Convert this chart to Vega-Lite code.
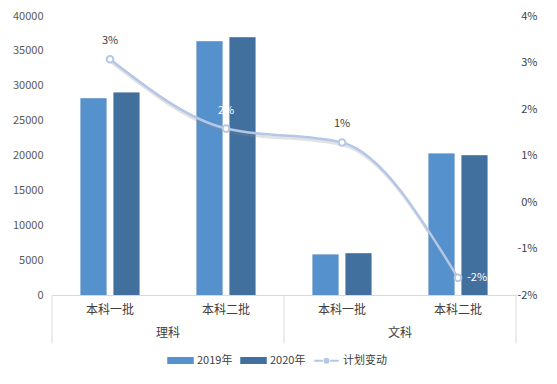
{
  "$schema": "https://vega.github.io/schema/vega-lite/v6.json",
  "autosize": "none",
  "width": 464,
  "height": 279,
  "padding": {"left": 52, "top": 16, "right": 41, "bottom": 89},
  "background": "white",
  "config": {
    "view": {"stroke": null},
    "font": "Noto Sans CJK SC",
    "axis": {"title": null, "grid": false, "ticks": false, "labelColor": "#404040", "labelOverlap": false, "labelSeparation": 0},
    "axisY": {"labelOverlap": false, "labelSeparation": 0},
    "axisLeft": {"labelOverlap": false, "labelSeparation": 0},
    "axisRight": {"labelColor": "#404040"},
    "axisQuantitative": {"labelOverlap": false}
  },
  "datasets": {
    "bars": [
      {"key": "理科-本科一批", "year": "2019年", "value": 28190},
      {"key": "理科-本科一批", "year": "2020年", "value": 29050},
      {"key": "理科-本科二批", "year": "2019年", "value": 36370},
      {"key": "理科-本科二批", "year": "2020年", "value": 36950},
      {"key": "文科-本科一批", "year": "2019年", "value": 5790},
      {"key": "文科-本科一批", "year": "2020年", "value": 5970},
      {"key": "文科-本科二批", "year": "2019年", "value": 20290},
      {"key": "文科-本科二批", "year": "2020年", "value": 20050}
    ],
    "line": [
      {"key": "理科-本科一批", "batch": "本科一批", "change": 0.0307},
      {"key": "理科-本科二批", "batch": "本科二批", "change": 0.0158},
      {"key": "文科-本科一批", "batch": "本科一批", "change": 0.0128},
      {"key": "文科-本科二批", "batch": "本科二批", "change": -0.0163}
    ],
    "groups": [
      {"key": "理科-本科一批", "group": "理科"},
      {"key": "文科-本科一批", "group": "文科"}
    ],
    "ends": [
      {"key": "文科-本科二批"}
    ]
  },
  "layer": [
    {
      "layer": [
        {
          "data": {"name": "bars"},
          "mark": {"type": "bar", "color": "#7F7F7F", "opacity": 0.4, "xOffset": 3},
          "encoding": {
            "x": {
              "field": "key", "type": "nominal",
              "scale": {"domain": ["理科-本科一批", "理科-本科二批", "文科-本科一批", "文科-本科二批"], "paddingInner": 0, "paddingOuter": 0},
              "axis": {"labelExpr": "split(datum.value,'-')[1]", "labelFontSize": 12, "labelPadding": 9, "labelAngle": 0, "domain": true, "domainColor": "#D9D9D9", "domainWidth": 1, "bandPosition": 0.5}
            },
            "xOffset": {"field": "year", "type": "nominal", "scale": {"paddingInner": 0.212, "paddingOuter": 0.864}},
            "y": {
              "field": "value", "type": "quantitative",
              "scale": {"domain": [0, 40000], "nice": false},
              "axis": {"tickCount": 8, "format": "d", "labelFontSize": 11, "labelPadding": 9, "labelColor": "#595959", "domain": false, "labelOverlap": false, "labelSeparation": 0}
            }
          }
        },
        {
          "data": {"name": "bars"},
          "mark": {"type": "bar"},
          "encoding": {
            "x": {
              "field": "key", "type": "nominal",
              "scale": {"domain": ["理科-本科一批", "理科-本科二批", "文科-本科一批", "文科-本科二批"], "paddingInner": 0, "paddingOuter": 0},
              "axis": {"labelExpr": "split(datum.value,'-')[1]", "labelFontSize": 12, "labelPadding": 9, "labelAngle": 0, "domain": true, "domainColor": "#D9D9D9", "domainWidth": 1, "bandPosition": 0.5}
            },
            "xOffset": {"field": "year", "type": "nominal", "scale": {"paddingInner": 0.212, "paddingOuter": 0.864}},
            "y": {
              "field": "value", "type": "quantitative",
              "scale": {"domain": [0, 40000], "nice": false},
              "axis": {"tickCount": 8, "format": "d", "labelFontSize": 11, "labelPadding": 9, "labelColor": "#595959", "domain": false, "labelOverlap": false, "labelSeparation": 0}
            },
            "color": {
              "field": "year",
              "type": "nominal",
              "scale": {"domain": ["2019年", "2020年", "计划变动"], "range": ["#5591CC", "#41709E", "#B4C7E7"]},
              "legend": {
                "title": null,
                "orient": "none",
                "direction": "horizontal",
                "legendX": 115,
                "legendY": 331,
                "padding": 0,
                "symbolSize": 600,
                "symbolStrokeWidth": 2,
                "labelFontSize": 11,
                "labelColor": "#404040",
                "labelOffset": 3,
                "columnPadding": 4,
                "encode": {
                  "symbols": {
                    "update": {
                      "shape": {"signal": "datum.value === '计划变动' ? 'M-1,0H-0.3M0.3,0H1M0.16,0A0.16,0.16,0,1,1,-0.16,0A0.16,0.16,0,1,1,0.16,0' : 'M-1,-0.2H1V0.2H-1Z'"},
                      "fill": {"signal": "scale('color', datum.value)"},
                      "stroke": {"signal": "scale('color', datum.value)"},
                      "opacity": {"value": 1},
                      "fillOpacity": {"value": 1},
                      "strokeOpacity": {"value": 1}
                    }
                  }
                }
              }
            }
          }
        },
        {
          "data": {"name": "groups"},
          "mark": {"type": "rule", "color": "#D9D9D9", "strokeWidth": 1},
          "encoding": {
            "x": {
              "field": "key", "type": "nominal", "bandPosition": 0,
              "axis": {"labelExpr": "split(datum.value,'-')[1]", "labelFontSize": 12, "labelPadding": 9, "labelAngle": 0, "domain": true, "domainColor": "#D9D9D9", "domainWidth": 1, "bandPosition": 0.5}
            },
            "y": {"datum": 0, "type": "quantitative"},
            "y2": {"datum": -6900}
          }
        },
        {
          "data": {"name": "ends"},
          "mark": {"type": "rule", "color": "#D9D9D9", "strokeWidth": 1},
          "encoding": {
            "x": {
              "field": "key", "type": "nominal", "bandPosition": 1,
              "axis": {"labelExpr": "split(datum.value,'-')[1]", "labelFontSize": 12, "labelPadding": 9, "labelAngle": 0, "domain": true, "domainColor": "#D9D9D9", "domainWidth": 1, "bandPosition": 0.5}
            },
            "y": {"datum": 0, "type": "quantitative"},
            "y2": {"datum": -6900}
          }
        },
        {
          "data": {"name": "groups"},
          "mark": {"type": "text", "fontSize": 12, "color": "#404040", "baseline": "middle", "dy": 38},
          "encoding": {
            "x": {
              "field": "key", "type": "nominal", "bandPosition": 1,
              "axis": {"labelExpr": "split(datum.value,'-')[1]", "labelFontSize": 12, "labelPadding": 9, "labelAngle": 0, "domain": true, "domainColor": "#D9D9D9", "domainWidth": 1, "bandPosition": 0.5}
            },
            "y": {"datum": 0, "type": "quantitative"},
            "text": {"field": "group"}
          }
        }
      ]
    },
    {
      "data": {"name": "line"},
      "transform": [
        {"calculate": "replace(format(datum.change, '.0%'), '\u2212', '-')", "as": "label"}
      ],
      "encoding": {
        "x": {"field": "key", "type": "nominal"},
        "y": {
          "field": "change",
          "type": "quantitative",
          "scale": {"domain": [-0.02, 0.04], "nice": false, "zero": false},
          "axis": {
            "orient": "right",
            "values": [-0.02, -0.01, 0, 0.01, 0.02, 0.03, 0.04],
            "format": ".0%",
            "labelExpr": "replace(datum.label, '\u2212', '-')",
            "labelFontSize": 11,
            "labelPadding": 21,
            "labelAlign": "right",
            "labelColor": "#404040",
            "domain": false
          }
        }
      },
      "layer": [
        {
          "mark": {"type": "line", "interpolate": "monotone", "strokeWidth": 3, "stroke": "#8C8C8C", "opacity": 0.25, "yOffset": 2.5, "xOffset": 1}
        },
        {
          "mark": {"type": "line", "interpolate": "monotone", "strokeWidth": 2.5, "stroke": "#B4C7E7", "strokeCap": "round"},
          "encoding": {"color": {"datum": "计划变动"}}
        },
        {
          "mark": {"type": "point", "filled": true, "fill": "white", "stroke": "#B4C7E7", "strokeWidth": 2, "size": 45, "opacity": 1}
        },
        {
          "transform": [{"filter": "datum.change >= 0"}],
          "mark": {"type": "text", "fontSize": 11, "baseline": "middle", "dy": -18},
          "encoding": {
            "text": {"field": "label"},
            "color": {"condition": {"test": "datum.batch === '本科二批'", "value": "white"}, "value": "#404040"}
          }
        },
        {
          "transform": [{"filter": "datum.change < 0"}],
          "mark": {"type": "text", "fontSize": 11, "baseline": "middle", "align": "left", "dx": 9, "color": "white"},
          "encoding": {
            "text": {"field": "label"}
          }
        }
      ]
    }
  ],
  "resolve": {"scale": {"y": "independent"}}
}
